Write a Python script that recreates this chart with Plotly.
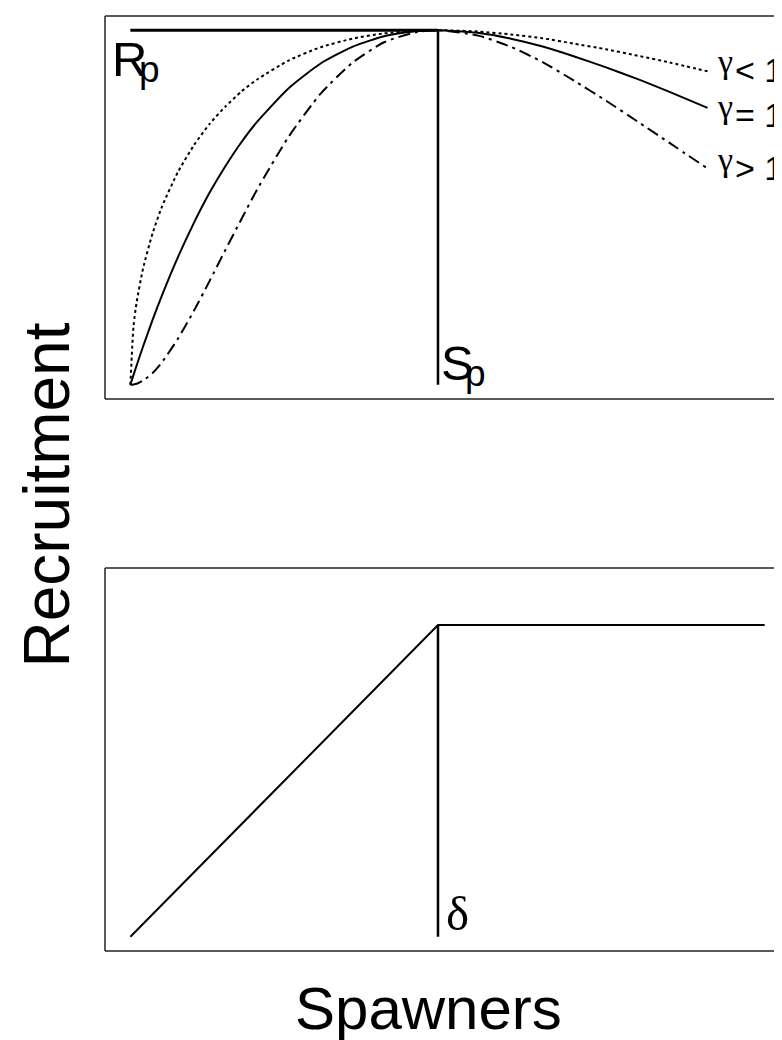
import plotly.graph_objects as go

# ---- data ----
spawners = [0, 0.005, 0.01, 0.02, 0.035, 0.05, 0.075, 0.1, 0.125, 0.15, 0.175, 0.2, 0.25, 0.3,
            0.35, 0.4, 0.45, 0.485, 0.55, 0.6, 0.65, 0.7, 0.75, 0.8, 0.85, 0.91]
rec_gamma_lt1 = [0, 0.166, 0.234, 0.328, 0.427, 0.503, 0.600, 0.675, 0.736, 0.785, 0.827, 0.861,
                 0.915, 0.952, 0.976, 0.991, 0.998, 1.0, 0.996, 0.988, 0.977, 0.962, 0.946, 0.928,
                 0.909, 0.884]
rec_gamma_eq1 = [0, 0.028, 0.055, 0.108, 0.183, 0.253, 0.360, 0.456, 0.542, 0.617, 0.684, 0.742,
                 0.837, 0.906, 0.953, 0.983, 0.997, 1.0, 0.992, 0.976, 0.954, 0.926, 0.895, 0.862,
                 0.826, 0.781]
rec_gamma_gt1 = [0, 0.001, 0.003, 0.012, 0.033, 0.064, 0.130, 0.208, 0.293, 0.381, 0.467, 0.551,
                 0.701, 0.821, 0.908, 0.966, 0.994, 1.0, 0.984, 0.953, 0.910, 0.857, 0.801, 0.742,
                 0.682, 0.610]
gamma_symbol = "γ"
gamma_relations = ["< 1", "= 1", "> 1"]
gamma_label_y = [0.889, 0.760, 0.611]
Sp = 0.485
Rp = 1.0

hockey_x = [0, 0.485, 1.0]
hockey_y = [0.0, 0.879, 0.879]
delta = 0.485

FONT = "Liberation Sans, Arial, sans-serif"
SERIF = "Liberation Serif, DejaVu Serif, serif"

fig = go.Figure()

# top panel curves
fig.add_trace(go.Scatter(x=spawners, y=rec_gamma_lt1, mode="lines", xaxis="x", yaxis="y",
                         line=dict(color="black", width=2, dash="dot", shape="spline", smoothing=0.6)))
fig.add_trace(go.Scatter(x=spawners, y=rec_gamma_eq1, mode="lines", xaxis="x", yaxis="y",
                         line=dict(color="black", width=2, shape="spline", smoothing=0.6)))
fig.add_trace(go.Scatter(x=spawners, y=rec_gamma_gt1, mode="lines", xaxis="x", yaxis="y",
                         line=dict(color="black", width=2, dash="12px,5px,3px,5px", shape="spline", smoothing=0.6)))
# Rp horizontal and Sp vertical lines
fig.add_trace(go.Scatter(x=[0, Sp], y=[Rp, Rp], mode="lines", xaxis="x", yaxis="y",
                         line=dict(color="black", width=3)))
fig.add_trace(go.Scatter(x=[Sp, Sp], y=[0, Rp], mode="lines", xaxis="x", yaxis="y",
                         line=dict(color="black", width=2.5)))

# bottom panel
fig.add_trace(go.Scatter(x=hockey_x, y=hockey_y, mode="lines", xaxis="x2", yaxis="y2",
                         line=dict(color="black", width=2)))
fig.add_trace(go.Scatter(x=[delta, delta], y=[hockey_y[0], hockey_y[1]], mode="lines", xaxis="x2", yaxis="y2",
                         line=dict(color="black", width=2.5)))

ax = dict(range=[-0.04, 1.04], showticklabels=False, ticks="", showgrid=False,
          zeroline=False, showline=False, fixedrange=True)

fig.update_layout(
    width=782, height=1040,
    margin=dict(l=97, r=0, t=8, b=97),
    paper_bgcolor="white", plot_bgcolor="white",
    showlegend=False,
    xaxis=dict(ax, domain=[0, 1], anchor="y"),
    yaxis=dict(ax, domain=[0.5904, 1], anchor="x"),
    xaxis2=dict(ax, domain=[0, 1], anchor="y2"),
    yaxis2=dict(ax, domain=[0, 0.4096], anchor="x2"),
)

# panel frames: top, left, bottom edges (right edge lies off-canvas)
for xr, yr in (("x domain", "y domain"), ("x2 domain", "y2 domain")):
    for (x0, y0, x1, y1) in ((0, 1, 1.01, 1), (0, 0, 0, 1), (0, 0, 1.01, 0)):
        fig.add_shape(type="line", xref=xr, yref=yr, x0=x0, y0=y0, x1=x1, y1=y1,
                      line=dict(color="#222222", width=1.5))


def label(text, x, y, size, family=FONT, xref="x", yref="y"):
    return dict(text=text, x=x, y=y, xref=xref, yref=yref, xanchor="left", yanchor="middle",
                showarrow=False, borderpad=0, borderwidth=0,
                font=dict(family=family, size=size, color="black"))


ann = []
# R_p (plotmath-style subscript tucked under the R)
ann.append(label("R", -0.029, 0.919, 49))
ann.append(label("p", 0.014, 0.890, 37))
# S_p
ann.append(label("S", Sp + 0.004, 0.0615, 49))
ann.append(label("p", Sp + 0.042, 0.0327, 37))
# gamma labels
for rel, yy in zip(gamma_relations, gamma_label_y):
    ann.append(label(gamma_symbol, 0.9248, yy + 0.024, 34, family=SERIF))
    ann.append(label(rel, 0.9530, yy, 34))
# delta
ann.append(label("δ", delta + 0.0125, 0.066, 49, family=SERIF, xref="x2", yref="y2"))

plot_w = 782 - 97
plot_h = 1040 - 8 - 97
ann.append(dict(text="Recruitment", x=(38 - 97) / plot_w, y=(943 - 487.5) / plot_h,
                xref="paper", yref="paper", xanchor="center", yanchor="middle", showarrow=False,
                textangle=-90, font=dict(family=FONT, size=64, color="black")))
ann.append(dict(text="Spawners", x=(420 - 97) / plot_w, y=(943 - 1000) / plot_h,
                xref="paper", yref="paper", xanchor="center", yanchor="middle", showarrow=False,
                font=dict(family=FONT, size=60, color="black")))
fig.update_layout(annotations=ann)

fig.write_html("out.html")
